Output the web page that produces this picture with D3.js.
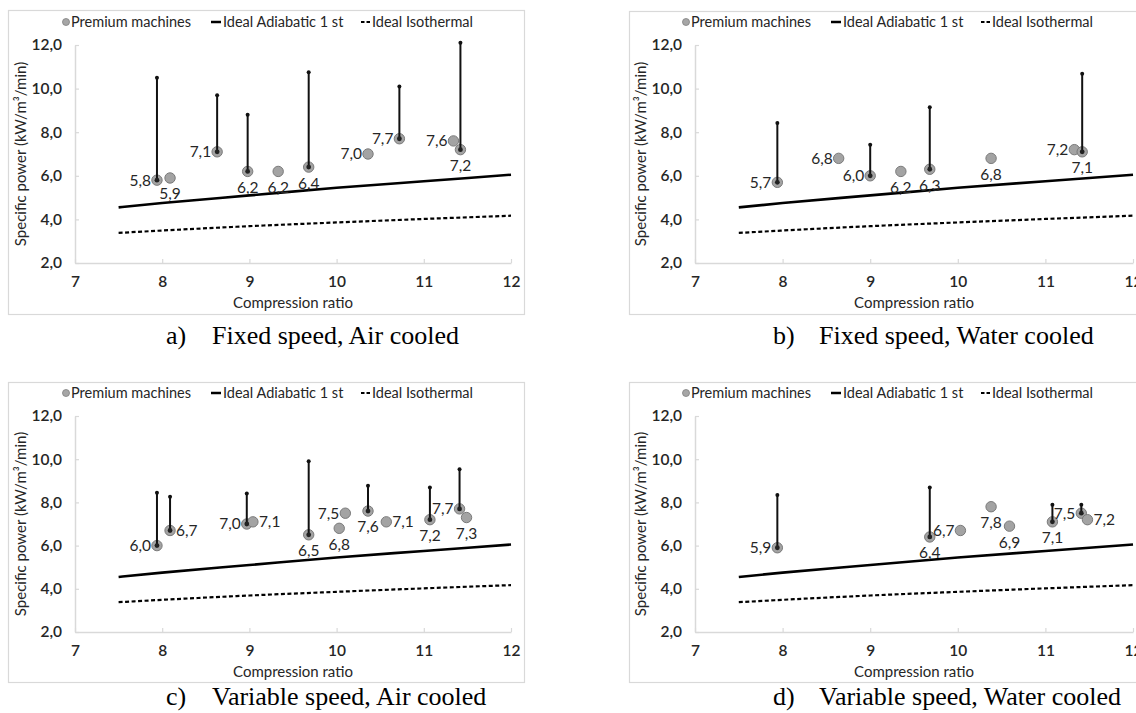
<!DOCTYPE html>
<html><head><meta charset="utf-8">
<script src="https://cdn.jsdelivr.net/npm/d3@7"></script>
<style>body{margin:0;background:#fff}svg{display:block}</style>
</head><body>
<svg id="chart" width="1136" height="713"></svg>
<script>
// ---------- shared data ----------
const xTicks = [7, 8, 9, 10, 11, 12];
const yTicks = [2, 4, 6, 8, 10, 12];
const idealRatio = [7.5, 8, 9, 10, 11, 12];
const idealAdiabatic = [4.55, 4.75, 5.1, 5.45, 5.75, 6.05];
const idealIsothermal = [3.38, 3.49, 3.69, 3.86, 4.02, 4.17];
const legendLabels = ["Premium machines", "Ideal Adiabatic 1 st", "Ideal Isothermal"];
const xTitle = "Compression ratio";
const yTitle = "Specific power (kW/m³/min)";

// ---------- panel a: Fixed speed, Air cooled ----------
const aCaptionTag = "a)";
const aCaption = "Fixed speed, Air cooled";
const aRatio = [7.94, 8.09, 8.63, 8.98, 9.33, 9.68, 10.36, 10.72, 11.34, 11.42];
const aPower = [5.8, 5.9, 7.1, 6.2, 6.2, 6.4, 7.0, 7.7, 7.6, 7.2];
const aMax   = [10.5, null, 9.7, 8.8, null, 10.75, null, 10.1, null, 12.1];
const aLabel = ["left","below","left","below","below","below","left","left","left","below"];

// ---------- panel b: Fixed speed, Water cooled ----------
const bCaptionTag = "b)";
const bCaption = "Fixed speed, Water cooled";
const bRatio = [7.94, 8.64, 9.0, 9.35, 9.68, 10.38, 11.33, 11.42];
const bPower = [5.7, 6.8, 6.0, 6.2, 6.3, 6.8, 7.2, 7.1];
const bMax   = [8.42, null, 7.43, null, 9.15, null, null, 10.68];
const bLabel = ["left","left","left","below","below","below","left","below"];

// ---------- panel c: Variable speed, Air cooled ----------
const cCaptionTag = "c)";
const cCaption = "Variable speed, Air cooled";
const cRatio = [7.94, 8.09, 8.97, 9.04, 9.68, 10.10, 10.03, 10.36, 10.57, 11.07, 11.41, 11.49];
const cPower = [6.0, 6.7, 7.0, 7.1, 6.5, 7.5, 6.8, 7.6, 7.1, 7.2, 7.7, 7.3];
const cMax   = [8.45, 8.26, 8.41, null, 9.91, null, null, 8.77, null, 8.69, 9.53, null];
const cLabel = ["left","right","left","right","below","left","below","below","right","below","left","below"];

// ---------- panel d: Variable speed, Water cooled ----------
const dCaptionTag = "d)";
const dCaption = "Variable speed, Water cooled";
const dRatio = [7.94, 9.68, 10.03, 10.38, 10.59, 11.08, 11.41, 11.48];
const dPower = [5.9, 6.4, 6.7, 7.8, 6.9, 7.1, 7.5, 7.2];
const dMax   = [8.34, 8.69, null, null, null, 7.89, 7.89, null];
const dLabel = ["left","below","left","below","below","below","left","right"];

// ---------- layout (kept separate from data) ----------
const layouts = [
  {left:75,  right:511,  top:45,  bottom:263, frame:[8,10,524,314],   capTagX:166, capX:212, capY:344},
  {left:695, right:1133, top:45,  bottom:263, frame:[629,11,1150,314], capTagX:773, capX:819, capY:344},
  {left:75,  right:511,  top:416, bottom:632, frame:[8,382,524,682],  capTagX:166, capX:212, capY:705},
  {left:695, right:1133, top:416, bottom:632, frame:[629,382,1150,682],capTagX:773, capX:819, capY:705}
];
const panels = [
  {tag:aCaptionTag, caption:aCaption, ratio:aRatio, power:aPower, max:aMax, label:aLabel},
  {tag:bCaptionTag, caption:bCaption, ratio:bRatio, power:bPower, max:bMax, label:bLabel},
  {tag:cCaptionTag, caption:cCaption, ratio:cRatio, power:cPower, max:cMax, label:cLabel},
  {tag:dCaptionTag, caption:dCaption, ratio:dRatio, power:dPower, max:dMax, label:dLabel}
];

const FONT = "Lato, 'Open Sans', sans-serif";
const TXT = "#262626";
const AXIS = "#d9d9d9";
const fmt = v => d3.format(".1f")(v).replace(".", ",");
const svg = d3.select("#chart");

panels.forEach((p, i) => {
  const L = layouts[i];
  const g = svg.append("g");
  const x = d3.scaleLinear().domain([7, 12]).range([L.left, L.right]);
  const y = d3.scaleLinear().domain([2, 12]).range([L.bottom, L.top]);

  // frame
  g.append("rect")
    .attr("x", L.frame[0] + 0.5).attr("y", L.frame[1] + 0.5)
    .attr("width", L.frame[2] - L.frame[0]).attr("height", L.frame[3] - L.frame[1])
    .attr("fill", "none").attr("stroke", AXIS).attr("stroke-width", 1.2);

  // axes
  const xa = g.append("g").attr("transform", `translate(0,${y(2)})`)
    .call(d3.axisBottom(x).tickValues(xTicks).tickSize(-4).tickSizeOuter(0).tickPadding(13).tickFormat(d => d));
  const ya = g.append("g").attr("transform", `translate(${x(7)},0)`)
    .call(d3.axisLeft(y).tickValues(yTicks).tickSize(-4).tickSizeOuter(0).tickPadding(13).tickFormat(fmt));
  [xa, ya].forEach(a => {
    a.select(".domain").attr("stroke", AXIS).attr("stroke-width", 1.5);
    a.selectAll(".tick line").attr("stroke", AXIS).attr("stroke-width", 1.2);
    a.selectAll(".tick text").attr("fill", TXT).style("font-family", FONT)
      .style("font-size", "15.5px").style("font-weight", "600");
  });

  // axis titles
  g.append("text").attr("x", (L.left + L.right) / 2).attr("y", y(2) + 45)
    .attr("text-anchor", "middle").attr("fill", TXT)
    .style("font-family", FONT).style("font-size", "15px").text(xTitle);
  g.append("text")
    .attr("transform", `translate(${L.left - 49},${(L.top + L.bottom) / 2}) rotate(-90)`)
    .attr("text-anchor", "middle").attr("fill", TXT)
    .style("font-family", FONT).style("font-size", "15px").text(yTitle);

  // legend
  const ly = L.top - 23;
  const lg = g.append("g").style("font-family", FONT).style("font-size", "14.5px").attr("fill", TXT);
  lg.append("circle").attr("cx", L.left - 9).attr("cy", ly).attr("r", 3.5)
    .attr("fill", "#a6a6a6").attr("stroke", "#808080").attr("stroke-width", 0.8);
  lg.append("text").attr("x", L.left - 4).attr("y", ly).attr("dy", "0.35em").text(legendLabels[0]);
  lg.append("line").attr("x1", L.left + 136).attr("x2", L.left + 146).attr("y1", ly).attr("y2", ly)
    .attr("stroke", "#000").attr("stroke-width", 2.5);
  lg.append("text").attr("x", L.left + 148).attr("y", ly).attr("dy", "0.35em").text(legendLabels[1]);
  lg.append("line").attr("x1", L.left + 286).attr("x2", L.left + 295).attr("y1", ly).attr("y2", ly)
    .attr("stroke", "#000").attr("stroke-width", 2.2).attr("stroke-dasharray", "3.5,2");
  lg.append("text").attr("x", L.left + 297).attr("y", ly).attr("dy", "0.35em").text(legendLabels[2]);

  // ideal lines
  const adi = idealRatio.map((r, k) => [r, idealAdiabatic[k]]);
  const iso = idealRatio.map((r, k) => [r, idealIsothermal[k]]);
  const line = d3.line().x(d => x(d[0])).y(d => y(d[1])).curve(d3.curveMonotoneX);
  g.append("path").attr("d", line(adi)).attr("fill", "none").attr("stroke", "#000").attr("stroke-width", 2.6);
  g.append("path").attr("d", line(iso)).attr("fill", "none").attr("stroke", "#000").attr("stroke-width", 2.2)
    .attr("stroke-dasharray", "4,2.5");

  // points
  const pts = p.ratio.map((r, k) => ({r, v: p.power[k], m: p.max[k], pos: p.label[k]}));
  g.selectAll(".pt").data(pts).join("circle").attr("class", "pt")
    .attr("cx", d => x(d.r)).attr("cy", d => y(d.v)).attr("r", 5.2)
    .attr("fill", "#a3a3a3").attr("stroke", "#7a7a7a").attr("stroke-width", 1);

  // range bars
  const bars = pts.filter(d => d.m != null);
  g.selectAll(".bar").data(bars).join("line").attr("class", "bar")
    .attr("x1", d => x(d.r)).attr("x2", d => x(d.r))
    .attr("y1", d => y(d.v)).attr("y2", d => y(d.m))
    .attr("stroke", "#111").attr("stroke-width", 2);
  g.selectAll(".barTop").data(bars).join("circle").attr("class", "barTop")
    .attr("cx", d => x(d.r)).attr("cy", d => y(d.m)).attr("r", 2).attr("fill", "#111");
  g.selectAll(".barBot").data(bars).join("circle").attr("class", "barBot")
    .attr("cx", d => x(d.r)).attr("cy", d => y(d.v)).attr("r", 2.4).attr("fill", "#222");

  // data labels
  g.selectAll(".lbl").data(pts).join("text").attr("class", "lbl")
    .attr("x", d => d.pos === "left" ? x(d.r) - 6 : d.pos === "right" ? x(d.r) + 6 : x(d.r))
    .attr("y", d => d.pos === "below" ? y(d.v) + 16 : y(d.v))
    .attr("dy", "0.35em")
    .attr("text-anchor", d => d.pos === "left" ? "end" : d.pos === "right" ? "start" : "middle")
    .attr("fill", TXT).style("font-family", FONT).style("font-size", "15.5px")
    .text(d => fmt(d.v));

  // caption
  const cg = g.append("g").style("font-family", "'Liberation Serif', 'Times New Roman', serif")
    .style("font-size", "26px").attr("fill", "#000");
  cg.append("text").attr("x", L.capTagX).attr("y", L.capY).text(p.tag);
  cg.append("text").attr("x", L.capX).attr("y", L.capY).text(p.caption);
});
</script>
</body></html>
